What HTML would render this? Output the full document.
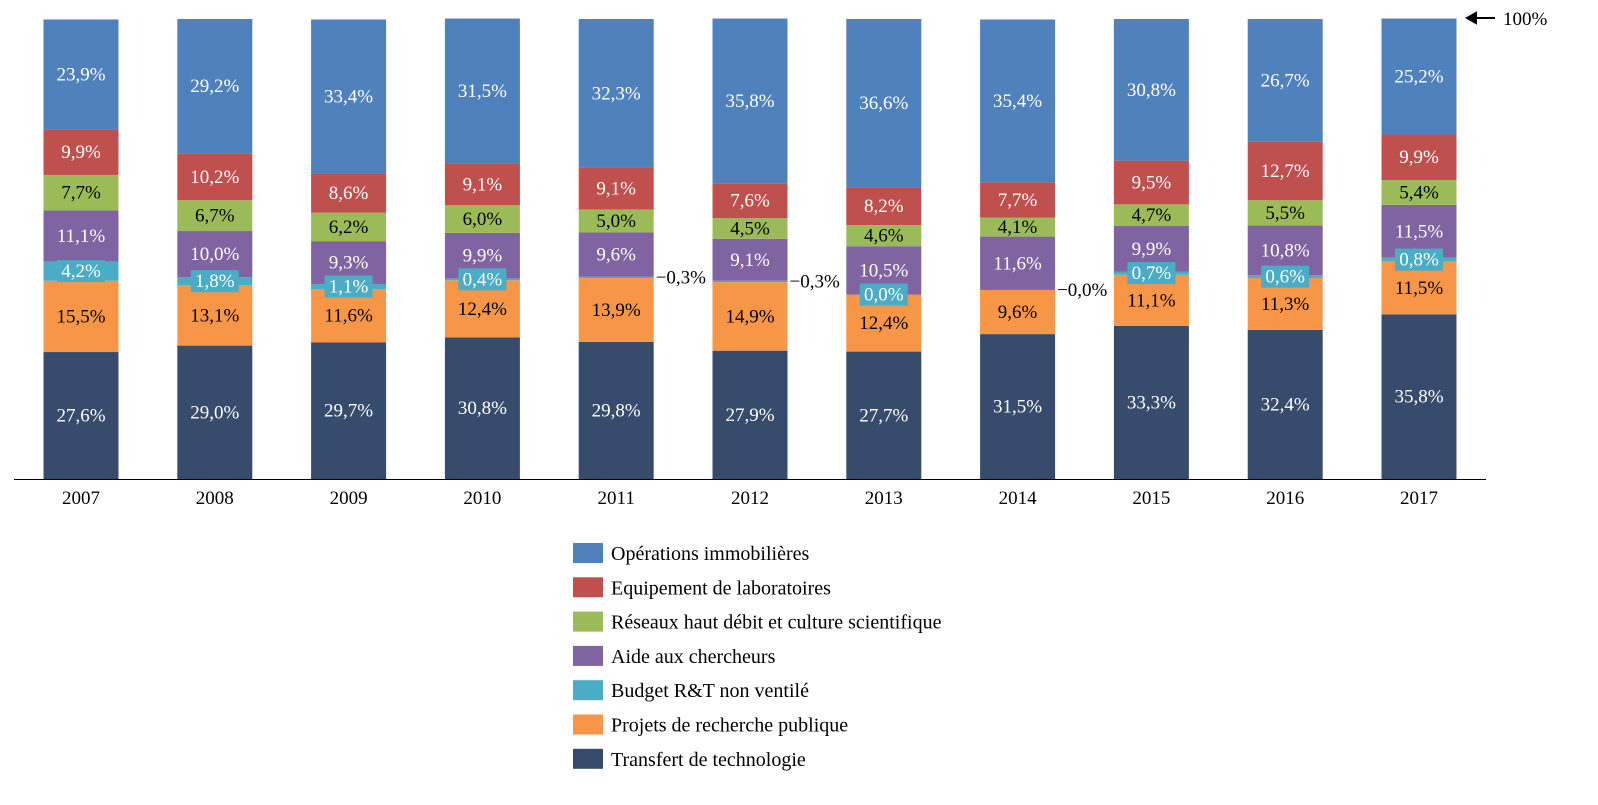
<!DOCTYPE html>
<html><head><meta charset="utf-8"><style>
body{margin:0;background:#fff;overflow:hidden;}
svg text{font-family:"Liberation Serif",serif;}
</style></head><body>
<svg id="c" width="1598" height="800"></svg>
<script>
const years=["2007","2008","2009","2010","2011","2012","2013","2014","2015","2016","2017"];
const transfert=[27.6,29.0,29.7,30.8,29.8,27.9,27.7,31.5,33.3,32.4,35.8];
const projets=[15.5,13.1,11.6,12.4,13.9,14.9,12.4,9.6,11.1,11.3,11.5];
const budget=[4.2,1.8,1.1,0.4,0.3,0.3,0.0,0.0,0.7,0.6,0.8];
const aide=[11.1,10.0,9.3,9.9,9.6,9.1,10.5,11.6,9.9,10.8,11.5];
const reseaux=[7.7,6.7,6.2,6.0,5.0,4.5,4.6,4.1,4.7,5.5,5.4];
const equipement=[9.9,10.2,8.6,9.1,9.1,7.6,8.2,7.7,9.5,12.7,9.9];
const operations=[23.9,29.2,33.4,31.5,32.3,35.8,36.6,35.4,30.8,26.7,25.2];
const outsideBudget=[false,false,false,false,true,true,false,true,false,false,false];
const series=[
 {name:"Transfert de technologie",key:"transfert",vals:transfert,color:"#374C6D",txt:"#fff"},
 {name:"Projets de recherche publique",key:"projets",vals:projets,color:"#F79646",txt:"#000"},
 {name:"Budget R&T non ventilé",key:"budget",vals:budget,color:"#4BACC6",txt:"#fff"},
 {name:"Aide aux chercheurs",key:"aide",vals:aide,color:"#8064A2",txt:"#fff"},
 {name:"Réseaux haut débit et culture scientifique",key:"reseaux",vals:reseaux,color:"#9BBB59",txt:"#000"},
 {name:"Equipement de laboratoires",key:"equipement",vals:equipement,color:"#C0504D",txt:"#fff"},
 {name:"Opérations immobilières",key:"operations",vals:operations,color:"#4F81BD",txt:"#fff"}
];
const NS="http://www.w3.org/2000/svg",svg=document.getElementById('c');
function el(t,a,p){const e=document.createElementNS(NS,t);for(const k in a)e.setAttribute(k,a[k]);(p||svg).appendChild(e);return e;}
const y0=479,y100=19;
const yS=v=>y0-(v/100)*(y0-y100);
const xC=i=>81+i*133.8;
const bw=75;
const fmt=v=>v.toFixed(1).replace('.',',')+'%';
const rectLayer=el('g',{}),labelLayer=el('g',{});
years.forEach((yr,i)=>{
  let cum=0;
  series.forEach(s=>{
    const v=s.vals[i];
    const top=yS(cum+v),bot=yS(cum);
    const r=el('rect',{x:xC(i)-bw/2,y:top,width:bw,height:Math.max(0,bot-top),fill:s.color},rectLayer);
    
    
    const cy=(top+bot)/2;
    if(s.key==='budget'){
      if(outsideBudget[i]){
        const t=el('text',{x:xC(i)+bw/2+2,y:cy+6,'font-size':19,fill:'#000'},labelLayer);
        t.textContent='\u2212'+fmt(v);
        
        
      }else{
        const b=el('rect',{x:xC(i)-24,y:cy-11,width:48,height:22,fill:s.color},labelLayer);
        
        
        const t=el('text',{x:xC(i),y:cy+6,'font-size':19,fill:'#fff','text-anchor':'middle'},labelLayer);
        t.textContent=fmt(v);
        
        
      }
    }else{
      const t=el('text',{x:xC(i),y:cy+6,'font-size':19,fill:s.txt,'text-anchor':'middle'},labelLayer);
      t.textContent=fmt(v);
      
      
    }
    cum+=v;
  });
  const t=el('text',{x:xC(i),y:504,'font-size':19,fill:'#000','text-anchor':'middle'});
  t.textContent=yr;
  
  
});
const ax=el('line',{x1:14,y1:479.5,x2:1486,y2:479.5,stroke:'#000','stroke-width':1});


const ar=el('path',{d:'M1467 18 L1476 13 L1476 23 Z M1475 18 L1495 18',stroke:'#000','stroke-width':2,fill:'#000'});


const h=el('text',{x:1503,y:25,'font-size':19,fill:'#000'});
h.textContent='100%';


const leg=[...series].reverse();
leg.forEach((s,k)=>{
  const y=543+k*34.3;
  const r=el('rect',{x:573,y:y,width:30,height:20,fill:s.color});
  
  
  const t=el('text',{x:611,y:y+17,'font-size':20,fill:'#000'});
  t.textContent=s.name;
  
  
});
</script>
</body></html>
